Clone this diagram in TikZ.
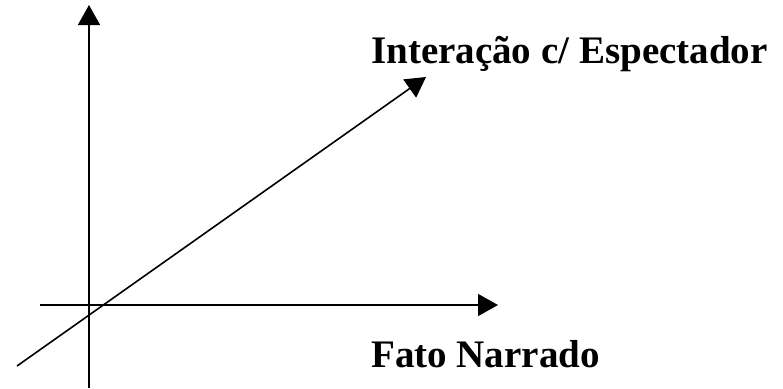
\documentclass[tikz,border=0pt]{standalone}
\usepackage{fontspec}
\setmainfont{Liberation Serif}
\usetikzlibrary{arrows.meta}
\begin{document}
\begin{tikzpicture}[x=1pt,y=-1pt,
  axis/.style={line width=1.6pt,-{Triangle[length=20pt,width=22pt]}},
  lbl/.style={font=\fontsize{39}{44}\selectfont\bfseries,anchor=base west,inner sep=0pt}]
\useasboundingbox (0,0) rectangle (783,388);
\coordinate (vS) at (89,388);
\coordinate (vE) at (89,5);
\coordinate (hS) at (40,305);
\coordinate (hE) at (498,305);
\coordinate (dS) at (17,366);
\coordinate (dE) at (426,77);
\draw[axis] (vS) -- (vE);
\draw[axis] (hS) -- (hE);
\draw[axis] (dS) -- (dE);
\node[lbl] (t1) at (371,63) {Interação c/ Espectador};
\node[lbl] (t2) at (371,367) {Fato Narrado};
\end{tikzpicture}
\end{document}
